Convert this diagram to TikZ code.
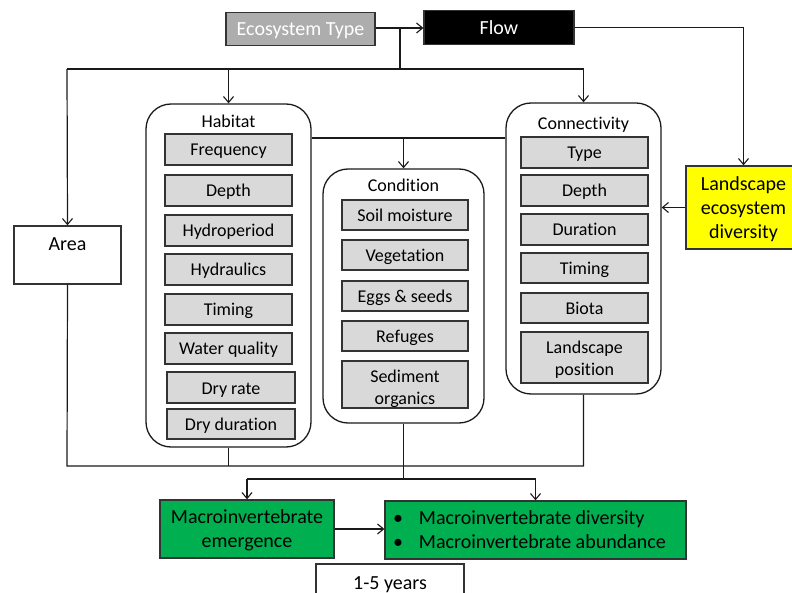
\documentclass[tikz,border=0pt]{standalone}
\usepackage{fontspec}
\setmainfont{Carlito}[Ligatures=NoCommon]
\usetikzlibrary{arrows.meta}
\definecolor{linec}{HTML}{1A1A1A}
\definecolor{boxline}{HTML}{333333}
\definecolor{itemfill}{HTML}{D9D9D9}
\definecolor{ecofill}{HTML}{ADADAD}
\definecolor{outgreen}{HTML}{00B050}
\definecolor{landyellow}{HTML}{FFFF00}
\newcommand{\smallsz}{\fontsize{18}{21.6}\selectfont}
\newcommand{\bigsz}{\fontsize{20}{24}\selectfont}
% invisible strut that pushes the first line of a multi-line label down
\newcommand{\topstrut}[1]{\rule{0pt}{#1}}
\begin{document}
\begin{tikzpicture}[x=1pt,y=-1pt,
  conn/.style={draw=linec, line width=1.2pt},
  arr/.style={conn, -{Straight Barb[length=6pt,width=10pt,line width=1.1pt]}},
  topbox/.style={draw=boxline, line width=1.3pt, inner sep=0pt, font=\bigsz, align=center},
  bigline/.style={text height=17.5, text depth=3.5},
  itembox/.style={draw=boxline, line width=1.3pt, fill=itemfill, inner sep=0pt,
    font=\smallsz, align=center, minimum height=31},
  smallline/.style={text height=16, text depth=3},
  groupbox/.style={draw=linec, line width=1.3pt, rounded corners=25pt, inner sep=0pt,
    font=\smallsz, text depth=#1},
  greenbox/.style={topbox, fill=outgreen, minimum height=58}
]
\useasboundingbox (0,0) rectangle (792,593);

% drivers
\node[topbox, bigline, fill=ecofill, text=white, minimum width=149, minimum height=33] (eco) at (300.5,29) {Ecosystem Type};
\node[topbox, bigline, fill=black, text=white, minimum width=150, minimum height=34] (flow) at (499,27.5) {Flow};
\node[topbox, fill=landyellow, minimum width=115, minimum height=83] (land) at (743.5,207.5) {\topstrut{18pt}Landscape\\ecosystem\\diversity};
\node[topbox, minimum width=107, inner ysep=0pt, text height=25, text depth=33] (area) at (67.5,255) {Area};

% habitat group
\node[groupbox=319, minimum width=165, text height=24] (hab) at (228.5,275.5) {Habitat};
\node[itembox, smallline, minimum width=127] (h1) at (228.5,149.5) {Frequency};
\node[itembox, smallline, minimum width=127] (h2) at (228.5,190.5) {Depth};
\node[itembox, smallline, minimum width=127] (h3) at (228.5,230.5) {Hydroperiod};
\node[itembox, smallline, minimum width=127] (h4) at (228.5,269.5) {Hydraulics};
\node[itembox, smallline, minimum width=127] (h5) at (228.5,309.5) {Timing};
\node[itembox, smallline, minimum width=127] (h6) at (228.5,348.5) {Water quality};
\node[itembox, smallline, minimum width=128] (h7) at (231,387.5) {Dry rate};
\node[itembox, smallline, minimum width=128, minimum height=30] (h8) at (231,424) {Dry duration};

% condition group
\node[groupbox=231, minimum width=161, text height=23] (cond) at (403.5,296) {Condition};
\node[itembox, smallline, minimum width=126, minimum height=30] (c1) at (405,215) {Soil moisture};
\node[itembox, smallline, minimum width=126, minimum height=30] (c2) at (405,255) {Vegetation};
\node[itembox, smallline, minimum width=126, minimum height=30] (c3) at (405,296) {Eggs \& seeds};
\node[itembox, smallline, minimum width=126, minimum height=30] (c4) at (405,336) {Refuges};
\node[itembox, minimum width=126, minimum height=47] (c5) at (405,384.5) {\topstrut{21pt}Sediment\\organics};

% connectivity group
\node[groupbox=264, minimum width=155, text height=27] (cnx) at (583.5,248.5) {Connectivity};
\node[itembox, smallline, minimum width=127] (k1) at (584.5,152.5) {Type};
\node[itembox, smallline, minimum width=127] (k2) at (584.5,190.5) {Depth};
\node[itembox, smallline, minimum width=127] (k3) at (584.5,229.5) {Duration};
\node[itembox, smallline, minimum width=127, minimum height=30] (k4) at (584.5,268) {Timing};
\node[itembox, smallline, minimum width=127, minimum height=30] (k5) at (584.5,308) {Biota};
\node[itembox, minimum width=127, minimum height=51] (k6) at (584.5,357.5) {\topstrut{17pt}Landscape\\position};

% responses
\node[greenbox, minimum width=174] (emg) at (247,529) {\topstrut{17pt}Macroinvertebrate\\emergence};
\node[greenbox, minimum width=301, text width=285, inner xsep=8pt, align=flush left] (div) at (535.5,530)
  {\makebox[26pt][l]{\textbullet}Macroinvertebrate diversity\\\makebox[26pt][l]{\textbullet}Macroinvertebrate abundance};
\node[topbox, bigline, fill=white, minimum width=148, minimum height=36] (yrs) at (390,582) {1-5 years};

% junction points
\coordinate (ej) at (400,28);
\coordinate (tl) at (67,69);
\coordinate (tr) at (583.5,69);
\coordinate (mj) at (403.5,138);
\coordinate (bl) at (67,466);
\coordinate (br) at (583.5,466);
\coordinate (cj) at (403.5,479);
\coordinate (gl) at (247,479);
\coordinate (gr) at (535.5,479);

% connectors from the drivers
\draw[arr] (eco.east |- ej) -- (flow.west |- ej);
\draw[conn] (ej) -- (ej |- tl);
\draw[conn] (tl) -- (tr);
\draw[arr] (tl) -- (area.north);
\draw[arr] (hab.north |- tl) -- (hab.north);
\draw[arr] (tr) -- (cnx.north);
\draw[arr] (flow.east) -| (land.north);
\draw[arr] (land.west) -- (land.west -| cnx.east);
\draw[conn] (hab.east |- mj) -- (cnx.west |- mj);
\draw[arr] (mj) -- (cond.north);

% connectors to the responses
\draw[conn] (area.south) -- (bl) -- (br) -- (cnx.south);
\draw[conn] (hab.south) -- (hab.south |- bl);
\draw[conn] (cond.south) -- (cj);
\draw[conn] (gl) -- (gr);
\draw[arr] (gl) -- (emg.north);
\draw[arr] (gr) -- (div.north);
\draw[arr] (emg.east) -- (emg.east -| div.west);
\end{tikzpicture}
\end{document}
